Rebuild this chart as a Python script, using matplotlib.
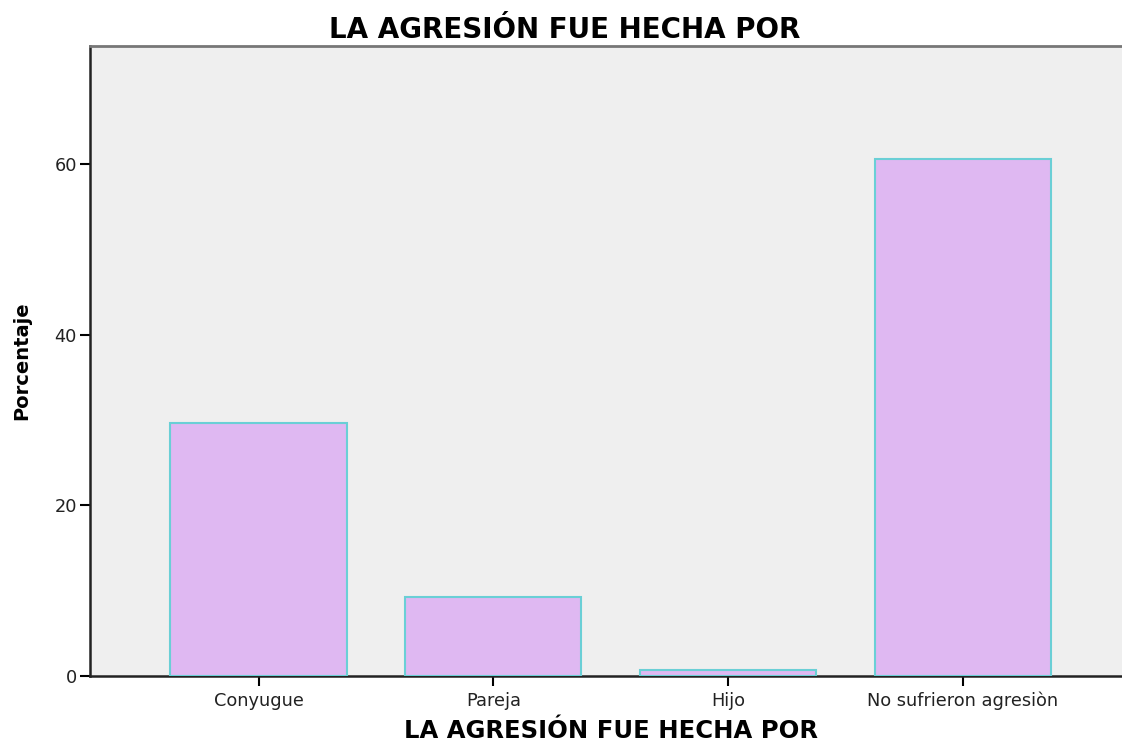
import matplotlib
matplotlib.use("Agg")
import matplotlib.pyplot as plt

categories = ["Conyugue", "Pareja", "Hijo", "No sufrieron agresiòn"]
percentages = [29.6, 9.25, 0.7, 60.6]
y_ticks = [0, 20, 40, 60]
title_text = "LA AGRESIÓN FUE HECHA POR"
x_label = "LA AGRESIÓN FUE HECHA POR"
y_label = "Porcentaje"

plt.rcParams['font.family'] = ['DejaVu Sans']

fig = plt.figure(figsize=(11.22, 7.44), dpi=100)
ax = fig.add_axes([89.5 / 1122, 1 - 676.3 / 744, 1 - 89.5 / 1122, (676.3 - 46) / 744])
ax.set_facecolor("#EFEFEF")

x = list(range(len(categories)))
ax.bar(x, percentages, width=0.75, color="#DFB8F2", edgecolor="#6ACFD6", linewidth=1.5, zorder=3)

ax.set_xlim(-0.72, 3.678)
ax.set_ylim(0, 73.8)
ax.set_yticks(y_ticks)
ax.set_xticks(x)
ax.set_xticklabels(categories, fontsize=12.8, color="#222222")
ax.tick_params(axis='y', labelsize=12.8, labelcolor="#222222", length=7, width=1.5, direction='out', pad=2)
ax.tick_params(axis='x', length=7, width=1.5, direction='out', pad=4)

for s in ["left", "bottom"]:
    ax.spines[s].set_color("#222222")
    ax.spines[s].set_linewidth(1.8)
ax.spines["top"].set_color("#777777")
ax.spines["top"].set_linewidth(2)
ax.spines["right"].set_visible(False)

fig.text(564.5 / 1122, 1 - 38.3 / 744, title_text, ha="center", va="baseline", fontsize=20, fontweight="bold")
fig.text(611 / 1122, 1 - 738.5 / 744, x_label, ha="center", va="baseline", fontsize=17.5, fontweight="bold")
fig.text(22 / 1122, 1 - 360.5 / 744, y_label, ha="center", va="center", rotation=90, fontsize=14, fontweight="bold")

fig.savefig("out.png", dpi=100)
